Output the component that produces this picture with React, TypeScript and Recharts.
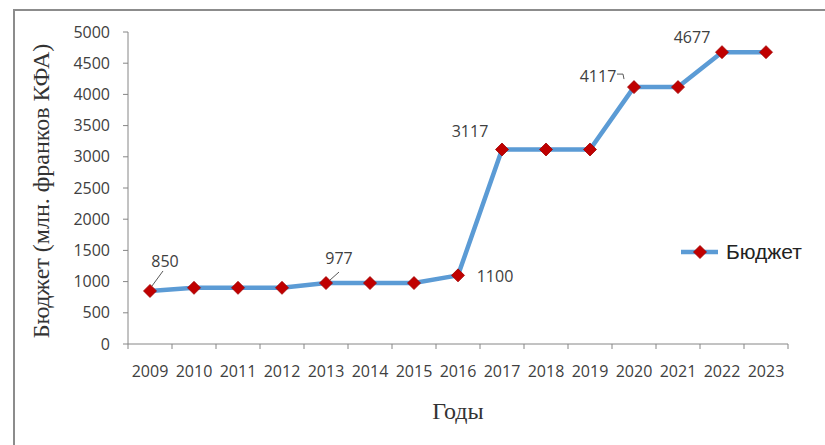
import React from 'react';
import { LineChart, Line, XAxis, YAxis, Legend, LabelList } from 'recharts';

const years = ['2009', '2010', '2011', '2012', '2013', '2014', '2015', '2016', '2017', '2018', '2019', '2020', '2021', '2022', '2023'];
const budget = [850, 900, 900, 900, 977, 977, 977, 1100, 3117, 3117, 3117, 4117, 4117, 4677, 4677];
const yTicks = [0, 500, 1000, 1500, 2000, 2500, 3000, 3500, 4000, 4500, 5000];
const seriesName = 'Бюджет';
const yTitle = 'Бюджет (млн. франков КФА)';
const xTitle = 'Годы';

const data = years.map((y, i) => ({ year: y, budget: budget[i] }));

// label placement (styling) relative to each labelled point
const labelStyle: Record<string, { dx: number; dy: number; leader?: number[][] }> = {
  '2009': { dx: 15, dy: -24, leader: [[13, -20], [2, -5]] },
  '2013': { dx: 13, dy: -19, leader: [[13, -11], [4, -3]] },
  '2016': { dx: 37, dy: 7 },
  '2017': { dx: -32, dy: -12 },
  '2020': { dx: -36, dy: -5, leader: [[-17, -13], [-11, -13], [-10, -8]] },
  '2022': { dx: -30, dy: -9 },
};

const TICK_FONT = '"Open Sans", sans-serif';
const TEXT_COLOR = '#404040';
const LINE_COLOR = '#5B9BD5';
const MARKER_COLOR = '#C00000';
const AXIS_COLOR = '#868686';

const Diamond = (props: any) => {
  const { cx, cy } = props;
  if (cx == null || cy == null) return null;
  const r = 6.5;
  return (
    <path
      d={`M${cx},${cy - r} L${cx + r},${cy} L${cx},${cy + r} L${cx - r},${cy} Z`}
      fill={MARKER_COLOR}
      stroke="#A00000"
      strokeWidth={0.8}
    />
  );
};

const DataLabel = (props: any) => {
  const { x, y, value, index } = props;
  const yr = years[index];
  const st = labelStyle[yr];
  if (!st || x == null || y == null) return null;
  return (
    <g>
      {st.leader && (
        <polyline
          points={st.leader.map((p) => `${x + p[0]},${y + p[1]}`).join(' ')}
          fill="none"
          stroke="#595959"
          strokeWidth={1}
        />
      )}
      <text x={x + st.dx} y={y + st.dy} textAnchor="middle" fontFamily={TICK_FONT} fontSize={16} fill={TEXT_COLOR}>
        {value}
      </text>
    </g>
  );
};

const XTick = (props: any) => {
  const { x, y, payload, index, visibleTicksCount } = props;
  const off = payload && payload.offset ? payload.offset : 22;
  const axisY = y - 8;
  const last = index === (visibleTicksCount ?? years.length) - 1;
  return (
    <g>
      <line x1={x - off} x2={x - off} y1={axisY} y2={axisY + 5} stroke={AXIS_COLOR} strokeWidth={1} />
      {last && <line x1={x + off} x2={x + off} y1={axisY} y2={axisY + 5} stroke={AXIS_COLOR} strokeWidth={1} />}
      <text x={x} y={axisY + 33} textAnchor="middle" fontFamily={TICK_FONT} fontSize={16} fill={TEXT_COLOR}>
        {payload.value}
      </text>
    </g>
  );
};

const LegendContent = () => (
  <svg width={145} height={26} style={{ display: 'block' }}>
    <line x1={3} x2={40} y1={13} y2={13} stroke={LINE_COLOR} strokeWidth={4.5} />
    <Diamond cx={22} cy={13} />
    <text x={48} y={20} fontFamily='"Liberation Sans", Arial, sans-serif' fontSize={21} fill="#222">
      {seriesName}
    </text>
  </svg>
);

export default function App() {
  return (
    <div style={{ position: 'absolute', left: 0, top: 0, width: 825, height: 445, background: '#fff' }}>
      <div
        style={{
          position: 'absolute',
          left: 13,
          top: 9,
          width: 812,
          height: 436,
          borderTop: '2px solid #8c8c8c',
          borderLeft: '2px solid #8c8c8c',
          boxSizing: 'border-box',
          pointerEvents: 'none',
        }}
      />
      <LineChart width={825} height={445} data={data} margin={{ top: 32, right: 37, left: 0, bottom: 0 }}>
        <XAxis
          dataKey="year"
          scale="band"
          height={101}
          axisLine={{ stroke: AXIS_COLOR, strokeWidth: 1 }}
          tickLine={false}
          tickSize={0}
          tickMargin={8}
          interval={0}
          tick={<XTick />}
          label={{
            content: () => (
              <text x={458} y={419} textAnchor="middle" fontFamily='"Liberation Serif", "Times New Roman", serif' fontSize={24} fill="#333">
                {xTitle}
              </text>
            ),
          }}
        />
        <YAxis
          width={128}
          domain={[0, 5000]}
          ticks={yTicks}
          interval={0}
          axisLine={{ stroke: AXIS_COLOR, strokeWidth: 1 }}
          tickLine={{ stroke: AXIS_COLOR, strokeWidth: 1 }}
          tickSize={5}
          tickMargin={13}
          tick={{ fontFamily: TICK_FONT, fontSize: 16, fill: TEXT_COLOR }}
          label={{
            content: () => (
              <text
                x={49}
                y={191}
                transform="rotate(-90 49 191)"
                textAnchor="middle"
                fontFamily='"Liberation Serif", "Times New Roman", serif'
                fontSize={24}
                fill="#333"
              >
                {yTitle}
              </text>
            ),
          }}
        />
        <Legend
          layout="horizontal"
          verticalAlign="middle"
          align="center"
          content={<LegendContent />}
          wrapperStyle={{ position: 'absolute', left: 678, top: 239, width: 145, height: 26, right: 'auto', bottom: 'auto' }}
        />
        <Line
          type="linear"
          dataKey="budget"
          name={seriesName}
          stroke={LINE_COLOR}
          strokeWidth={4.5}
          dot={<Diamond />}
          activeDot={false}
          isAnimationActive={false}
        >
          <LabelList dataKey="budget" content={<DataLabel />} />
        </Line>
      </LineChart>
    </div>
  );
}
